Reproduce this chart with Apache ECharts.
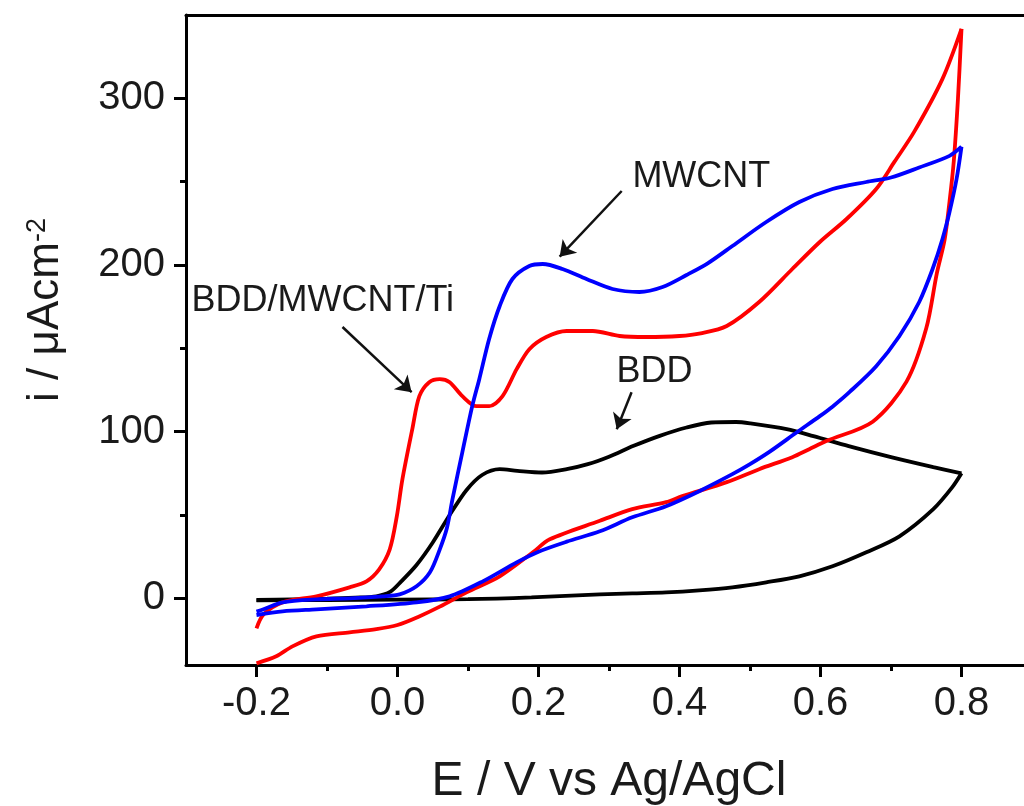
<!DOCTYPE html>
<html>
<head>
<meta charset="utf-8">
<title>CV BDD / MWCNT</title>
<script src="https://cdn.jsdelivr.net/npm/echarts@6/dist/echarts.min.js"></script>
<style>
html, body { margin: 0; padding: 0; background: #fff; }
#main { width: 1024px; height: 806px; }
</style>
</head>
<body>
<div id="main"></div>
<script>
// axis ticks
var xMajorTicks = [-0.2, 0, 0.2, 0.4, 0.6, 0.8];
var xMinorTicks = [-0.1, 0.1, 0.3, 0.5, 0.7];
var yMajorTicks = [0, 100, 200, 300];
var yMinorTicks = [50, 150, 250];

// [E / V, i / uA cm-2]
var bddForward = [[-0.2,-1],[-0.15,-0.6],[-0.1,-0.2],[-0.06,0.4],[-0.03,1.2],[-0.01,4],[0.005,10],[0.027,20],[0.05,33.5],[0.074,50],[0.098,65],[0.12,74],[0.145,77.5],[0.17,76.5],[0.205,75.5],[0.24,77.5],[0.27,80.5],[0.3,85],[0.335,91.5],[0.372,97.5],[0.41,102.5],[0.445,105.5],[0.48,105.8],[0.5,105],[0.552,101.5],[0.59,97.3],[0.64,91.3],[0.7,84.7],[0.76,78.7],[0.8,75]];
var bddReverse = [[0.8,75],[0.787,66.7],[0.76,53.5],[0.712,37.2],[0.665,27.6],[0.617,19.2],[0.57,13.2],[0.523,9.6],[0.475,6.6],[0.428,4.8],[0.381,3.6],[0.333,3],[0.287,2.4],[0.19,0.6],[0.1,-0.5],[0,-0.8],[-0.1,-1],[-0.2,-1.2]];

var mwcntForward = [[-0.2,-8],[-0.19,-6.6],[-0.163,-2.4],[-0.115,-0.6],[-0.068,0],[-0.021,1.2],[0.003,2.4],[0.027,7.2],[0.046,15.6],[0.06,29.4],[0.07,42],[0.078,59.5],[0.092,87.7],[0.106,115.3],[0.116,131.5],[0.13,155.6],[0.145,175.4],[0.163,191.6],[0.187,199.4],[0.206,200.6],[0.234,197.6],[0.268,191.6],[0.305,185.6],[0.343,183.8],[0.376,186.8],[0.41,194],[0.44,201],[0.475,211.4],[0.523,225.8],[0.57,237.8],[0.617,245.6],[0.665,249.8],[0.7,252.5],[0.74,258.5],[0.783,265.5],[0.8,271]];
var mwcntReverse = [[0.8,271],[0.793,251.6],[0.783,231.8],[0.773,215.6],[0.759,197.6],[0.74,177.8],[0.712,157.4],[0.679,139.3],[0.641,123.7],[0.617,115],[0.599,109.3],[0.566,99.5],[0.528,88],[0.5,80.5],[0.475,74.5],[0.428,64.3],[0.381,55.3],[0.333,48.6],[0.287,40.2],[0.24,34],[0.2,28],[0.169,21.6],[0.121,10.2],[0.074,1.2],[0.027,-2.4],[-0.044,-4.8],[-0.115,-6.6],[-0.163,-7.8],[-0.2,-10]];

var hybridForward = [[-0.2,-18],[-0.19,-9.6],[-0.163,-2.4],[-0.115,1.2],[-0.068,6.6],[-0.044,10.2],[-0.026,17.4],[-0.011,29.4],[-0.001,49.2],[0.007,71.5],[0.021,101.5],[0.031,121.3],[0.045,129.7],[0.06,131.5],[0.074,129.7],[0.092,121.3],[0.112,115.3],[0.13,115.3],[0.149,121.3],[0.169,137.5],[0.187,149.5],[0.211,156.8],[0.24,160.4],[0.277,160.4],[0.315,157.4],[0.353,156.8],[0.4,157.4],[0.43,159],[0.467,163.4],[0.513,177.8],[0.56,197.6],[0.599,213.8],[0.637,227.6],[0.679,245.6],[0.705,262],[0.733,280],[0.773,311.7],[0.8,341.7]];
var hybridReverse = [[0.8,341.7],[0.795,300],[0.789,262],[0.783,238],[0.776,215],[0.765,195],[0.75,162],[0.722,130],[0.674,106],[0.609,94.5],[0.584,89.5],[0.56,84.7],[0.513,77.5],[0.467,69.7],[0.404,61.3],[0.381,57.7],[0.333,53.5],[0.287,46.5],[0.216,35.4],[0.192,27.6],[0.145,13.2],[0.098,3.6],[0.06,-5],[0.03,-11],[0,-16],[-0.03,-18.5],[-0.068,-20.4],[-0.115,-22.8],[-0.149,-28.8],[-0.172,-34.8],[-0.2,-39]];

var fontName = 'Liberation Sans, Arial, Helvetica, sans-serif';
var textColor = '#1a1a1a';

function cvLine(name, data, color) {
	return {
		name: name,
		type: 'line',
		data: data,
		smooth: 0.3,
		symbol: 'none',
		silent: true,
		lineStyle: { color: color, width: 3.8 }
	};
}

function arrow(from, to) {
	return [{ coord: from }, { coord: to }];
}

function note(text, at) {
	return { name: text, coord: at };
}

var myChart = echarts.init(document.getElementById('main'));

var axisLineStyle = { show: true, onZero: false, lineStyle: { color: '#000', width: 3 } };

var option = {
	animation: false,
	backgroundColor: '#fff',
	grid: {
		left: 186,
		right: -8,
		top: 15,
		bottom: 141,
		outerBoundsMode: 'none'
	},
	xAxis: [{
		type: 'value',
		min: -0.3,
		max: 0.9,
		position: 'bottom',
		axisLine: axisLineStyle,
		splitLine: { show: false },
		axisTick: {
			show: true,
			length: 12,
			customValues: xMajorTicks,
			lineStyle: { color: '#000', width: 3 }
		},
		axisLabel: {
			customValues: xMajorTicks,
			margin: 19,
			color: textColor,
			fontSize: 40,
			fontFamily: fontName,
			formatter: function(v) { return v.toFixed(1); }
		},
		name: 'E / V vs Ag/AgCl',
		nameLocation: 'middle',
		nameGap: 93,
		nameTextStyle: { fontSize: 48, color: textColor, fontFamily: fontName }
	}, {
		// minor ticks
		type: 'value',
		min: -0.3,
		max: 0.9,
		position: 'bottom',
		axisLine: { show: false, onZero: false },
		splitLine: { show: false },
		axisLabel: { show: false },
		axisTick: {
			show: true,
			length: 6,
			customValues: xMinorTicks,
			lineStyle: { color: '#000', width: 3 }
		}
	}, {
		// top frame
		type: 'value',
		min: -0.3,
		max: 0.9,
		position: 'top',
		axisLine: axisLineStyle,
		splitLine: { show: false },
		axisLabel: { show: false },
		axisTick: { show: false }
	}],
	yAxis: [{
		type: 'value',
		min: -40,
		max: 350,
		position: 'left',
		axisLine: axisLineStyle,
		splitLine: { show: false },
		axisTick: {
			show: true,
			length: 12,
			customValues: yMajorTicks,
			lineStyle: { color: '#000', width: 3 }
		},
		axisLabel: {
			customValues: yMajorTicks,
			margin: 21,
			color: textColor,
			fontSize: 40,
			fontFamily: fontName
		},
		name: '{m|i / \u03bcAcm}{s|-2}',
		nameLocation: 'middle',
		nameGap: 118,
		nameTextStyle: {
			color: textColor,
			fontFamily: fontName,
			padding: [0, 0, 0, 60],
			rich: {
				m: { fontSize: 44, color: textColor, fontFamily: fontName },
				s: { fontSize: 27, color: textColor, fontFamily: fontName, verticalAlign: 'top' }
			}
		}
	}, {
		// minor ticks
		type: 'value',
		min: -40,
		max: 350,
		position: 'left',
		axisLine: { show: false, onZero: false },
		splitLine: { show: false },
		axisLabel: { show: false },
		axisTick: {
			show: true,
			length: 6,
			customValues: yMinorTicks,
			lineStyle: { color: '#000', width: 3 }
		}
	}],
	series: [
		cvLine('BDD', bddForward, '#000000'),
		cvLine('BDD', bddReverse, '#000000'),
		cvLine('BDD/MWCNT/Ti', hybridForward, '#ff0000'),
		cvLine('BDD/MWCNT/Ti', hybridReverse, '#ff0000'),
		cvLine('MWCNT', mwcntForward, '#0000ff'),
		cvLine('MWCNT', mwcntReverse, '#0000ff'),
		{
			// annotations
			name: 'notes',
			type: 'line',
			data: [],
			silent: true,
			markLine: {
				silent: true,
				symbol: ['none', 'arrow'],
				symbolSize: 15,
				label: { show: false },
				lineStyle: { color: '#111', width: 2.5, type: 'solid' },
				data: [
					arrow([0.318, 244.4], [0.23, 205]),
					arrow([-0.078, 162.8], [0.02, 123.7]),
					arrow([0.332, 123.7], [0.311, 101.5])
				]
			},
			markPoint: {
				silent: true,
				symbol: 'rect',
				symbolSize: 1,
				itemStyle: { color: 'rgba(0,0,0,0)' },
				label: {
					show: true,
					position: 'inside',
					formatter: '{b}',
					color: textColor,
					fontSize: 36,
					fontFamily: fontName
				},
				data: [
					note('MWCNT', [0.431, 252.9]),
					note('BDD/MWCNT/Ti', [-0.106, 178.4]),
					note('BDD', [0.3645, 135.7])
				]
			}
		}
	]
};

myChart.setOption(option);
</script>
</body>
</html>
